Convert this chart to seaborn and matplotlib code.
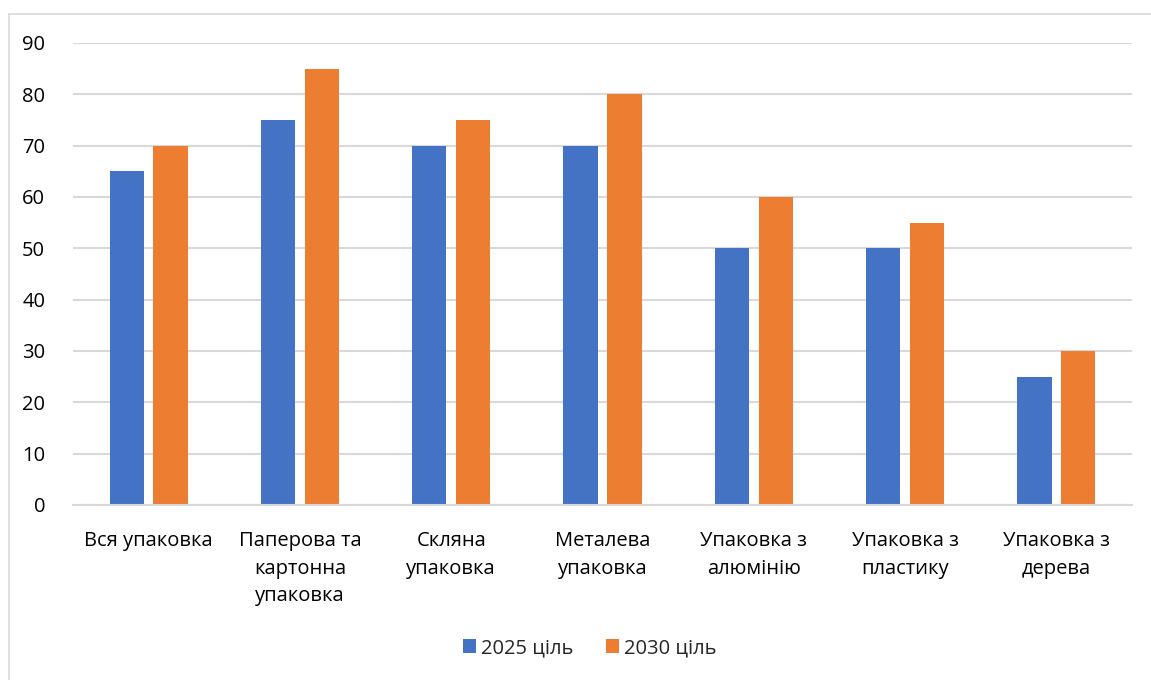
import matplotlib
matplotlib.use("Agg")
import matplotlib.pyplot as plt
import seaborn as sns
import pandas as pd
from matplotlib.patches import Rectangle

categories = [
    "Вся упаковка",
    "Паперова та\nкартонна\nупаковка",
    "Скляна\nупаковка",
    "Металева\nупаковка",
    "Упаковка з\nалюмінію",
    "Упаковка з\nпластику",
    "Упаковка з\nдерева",
]
target_2025 = [65, 75, 70, 70, 50, 50, 25]
target_2030 = [70, 85, 75, 80, 60, 55, 30]
series_names = ["2025 ціль", "2030 ціль"]

df = pd.DataFrame({
    "category": categories * 2,
    "value": target_2025 + target_2030,
    "series": [series_names[0]] * len(categories) + [series_names[1]] * len(categories),
})

sns.set_theme(style="white")
plt.rcParams["font.family"] = ["Open Sans", "DejaVu Sans"]

fig = plt.figure(figsize=(11.51, 6.80), dpi=100)
ax = fig.add_axes([73 / 1151, 1 - 505 / 680, (1132 - 73) / 1151, (505 - 43) / 680])

sns.barplot(
    data=df, x="category", y="value", hue="series", ax=ax,
    palette=["#4472C4", "#ED7D31"], width=0.58, gap=0.22,
    saturation=1, errorbar=None, linewidth=0,
)

ax.set_ylim(0, 90)
ax.set_xlim(-0.5, len(categories) - 0.5)
ax.set_yticks(range(0, 91, 10))
ax.yaxis.grid(True, color="#D9D9D9", linewidth=1.5)
ax.set_axisbelow(True)
for s in ["top", "right", "left"]:
    ax.spines[s].set_visible(False)
ax.spines["bottom"].set_color("#D9D9D9")
ax.spines["bottom"].set_linewidth(1.5)
ax.set_xlabel("")
ax.set_ylabel("")
ax.tick_params(axis="both", length=0, labelsize=14.5, colors="#000000")
ax.tick_params(axis="x", pad=19)
ax.tick_params(axis="y", pad=20)
for lbl in ax.get_xticklabels():
    lbl.set_linespacing(1.5)

leg = ax.legend(
    loc="center", bbox_to_anchor=(590 / 1151, 1 - 648 / 680),
    bbox_transform=fig.transFigure, ncol=2, frameon=False,
    fontsize=14.5, handlelength=0.65, handleheight=0.65,
    handletextpad=0.25, columnspacing=1.6,
)

fig.patches.append(Rectangle(
    (9 / 1151, -0.01), 1.0, 1 - 14 / 680 + 0.01, transform=fig.transFigure,
    fill=False, edgecolor="#D9D9D9", linewidth=1.2,
))

fig.savefig("out.png", dpi=100, facecolor="white")
